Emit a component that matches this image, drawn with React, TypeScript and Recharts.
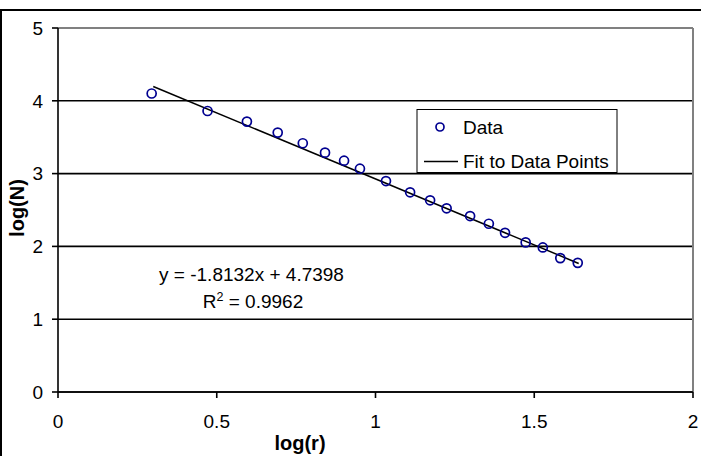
import React from 'react';
import { ScatterChart, Scatter, XAxis, YAxis, CartesianGrid, ReferenceLine, Label } from 'recharts';

const logR = [0.295, 0.471, 0.595, 0.692, 0.771, 0.841, 0.901, 0.951, 1.033, 1.109, 1.172, 1.224, 1.298, 1.357, 1.408, 1.473, 1.527, 1.582, 1.637];
const logN = [4.10, 3.86, 3.714, 3.563, 3.417, 3.288, 3.177, 3.067, 2.898, 2.743, 2.633, 2.523, 2.417, 2.311, 2.187, 2.055, 1.986, 1.839, 1.774];
const fitX = [0.3, 1.64];
const fitY = [4.196, 1.766];
const xTicks = [0, 0.5, 1, 1.5, 2];
const yTicks = [0, 1, 2, 3, 4, 5];
const equationText = 'y = -1.8132x + 4.7398';
const r2Text = ' = 0.9962';
const xTitle = 'log(r)';
const yTitle = 'log(N)';
const legendData = 'Data';
const legendFit = 'Fit to Data Points';

const FONT = '"Liberation Sans", Arial, Helvetica, sans-serif';
const W = 701;
const H = 456;

const points = logR.map((x, i) => ({ x, y: logN[i] }));
const fitPoints = fitX.map((x, i) => ({ x, y: fitY[i] }));

const Dot = (props: any) => (
  <circle cx={props.cx} cy={props.cy} r={4.5} fill="none" stroke="#000090" strokeWidth={1.7} />
);
const NoDot = () => <g />;

export default function App() {
  return (
    <div style={{ position: 'absolute', left: 0, top: 0, width: W, height: H, overflow: 'hidden', background: '#fff', fontFamily: FONT }}>
      <ScatterChart width={W} height={H} margin={{ top: 28, right: 8, bottom: 0, left: 0 }}>
        <CartesianGrid vertical={false} stroke="#000" strokeWidth={1.6} />
        <XAxis
          type="number"
          dataKey="x"
          domain={[0, 2]}
          ticks={xTicks}
          height={64}
          tickSize={6}
          tickMargin={17}
          axisLine={{ stroke: '#000', strokeWidth: 1.6 }}
          tickLine={{ stroke: '#000', strokeWidth: 1.6 }}
          tick={{ fill: '#000', fontSize: 19, fontFamily: FONT }}
        >
          <Label
            content={() => (
              <text x={300} y={450} textAnchor="middle" fontFamily={FONT} fontSize={20} fontWeight="bold" fill="#000">
                {xTitle}
              </text>
            )}
          />
        </XAxis>
        <YAxis
          type="number"
          dataKey="y"
          domain={[0, 5]}
          ticks={yTicks}
          width={58}
          tickSize={6}
          tickMargin={9}
          axisLine={{ stroke: '#000', strokeWidth: 1.6 }}
          tickLine={{ stroke: '#000', strokeWidth: 1.6 }}
          tick={{ fill: '#000', fontSize: 19, fontFamily: FONT }}
        >
          <Label
            content={() => (
              <text x={17} y={208} textAnchor="middle" dominantBaseline="central" transform="rotate(-90 17 208)" fontFamily={FONT} fontSize={20} fontWeight="bold" fill="#000">
                {yTitle}
              </text>
            )}
          />
        </YAxis>
        <ReferenceLine y={5} stroke="#808080" strokeWidth={2} />
        <ReferenceLine x={2} stroke="#808080" strokeWidth={2} />
        <Scatter data={fitPoints} line={{ stroke: '#000', strokeWidth: 1.5 }} shape={NoDot} isAnimationActive={false} />
        <Scatter data={points} shape={Dot} isAnimationActive={false} />
      </ScatterChart>
      <svg width={W} height={H} style={{ position: 'absolute', left: 0, top: 0, pointerEvents: 'none' }}>
        <rect x={1} y={10} width={760} height={520} fill="none" stroke="#000" strokeWidth={2} />
        <text x={251.5} y={281} textAnchor="middle" fontFamily={FONT} fontSize={19} fill="#000">{equationText}</text>
        <text x={253} y={308} textAnchor="middle" fontFamily={FONT} fontSize={19} fill="#000">
          <tspan>R</tspan>
          <tspan dy={-7} fontSize={12.5}>2</tspan>
          <tspan dy={7}>{r2Text}</tspan>
        </text>
        <rect x={417} y={109.5} width={200} height={63} fill="#fff" stroke="#000" strokeWidth={1} />
        <circle cx={440} cy={127} r={4} fill="none" stroke="#000090" strokeWidth={1.7} />
        <text x={463} y={134} fontFamily={FONT} fontSize={19} fill="#000">{legendData}</text>
        <line x1={424} x2={458} y1={161.5} y2={161.5} stroke="#000" strokeWidth={1.5} />
        <text x={463} y={168} fontFamily={FONT} fontSize={19} fill="#000">{legendFit}</text>
      </svg>
    </div>
  );
}
